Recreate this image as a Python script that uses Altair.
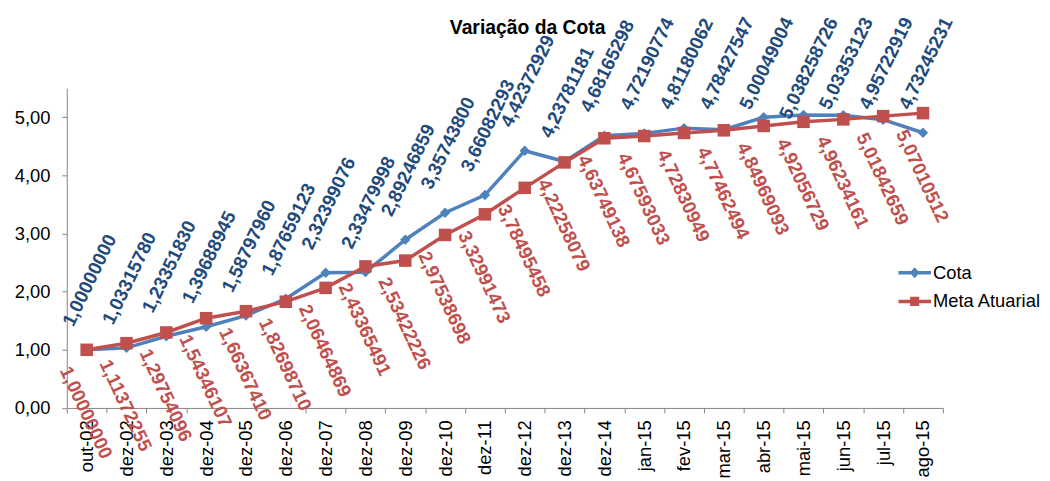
import altair as alt
import pandas as pd

meses = ["out-02", "dez-02", "dez-03", "dez-04", "dez-05", "dez-06", "dez-07",
         "dez-08", "dez-09", "dez-10", "dez-11", "dez-12", "dez-13", "dez-14",
         "jan-15", "fev-15", "mar-15", "abr-15", "mai-15", "jun-15", "jul-15", "ago-15"]

cota = [1.00000000, 1.03315780, 1.23351830, 1.39688945, 1.58797960, 1.87659123,
        2.32399076, 2.33479998, 2.89246859, 3.35743800, 3.66082293, 4.42372929,
        4.23781181, 4.68165298, 4.72190774, 4.81180062, 4.78427547, 5.00049004,
        5.038258726, 5.03353123, 4.95722919, 4.73245231]

meta = [1.00000000, 1.11372255, 1.29754096, 1.54346107, 1.66367410, 1.82698710,
        2.06464869, 2.43365491, 2.53422226, 2.97538698, 3.32991473, 3.78495458,
        4.22258079, 4.63749138, 4.67593033, 4.72830949, 4.77462494, 4.84969093,
        4.92056729, 4.96234161, 5.01842659, 5.07010512]

series = ["Cota", "Meta Atuarial"]
colors = ["#4F81BD", "#C0504D"]
label_colors = ["#1F4A7C", "#C0504D"]


def fmt(v):
    dec = max(8, len(repr(v).split(".")[1]))
    return f"{v:.{dec}f}".replace(".", ",")


rows = []
for m, c, t in zip(meses, cota, meta):
    rows.append({"mes": m, "serie": "Cota", "valor": c, "rotulo": fmt(c)})
    rows.append({"mes": m, "serie": "Meta Atuarial", "valor": t, "rotulo": fmt(t)})
df = pd.DataFrame(rows)

FONT = "Liberation Sans"
GRAY = "#868686"

x = alt.X("mes:N", sort=meses, bandPosition=0.5,
          scale=alt.Scale(type="band", paddingInner=0, paddingOuter=0),
          axis=alt.Axis(title=None, labelAngle=270, labelAlign="right", labelBaseline="middle",
                        labelFontSize=18.5, labelFont=FONT, labelColor="black", labelPadding=7,
                        tickBand="extent", tickSize=5, tickColor=GRAY, domainColor=GRAY,
                        grid=False, labelOverlap=False))
yscale = alt.Scale(domain=[0, 5.5], nice=False, zero=True)
y = alt.Y("valor:Q", scale=yscale,
          axis=alt.Axis(title=None, values=[0, 1, 2, 3, 4, 5],
                        labelExpr="replace(format(datum.value, '.2f'), '.', ',')",
                        labelFontSize=18.5, labelFont=FONT, labelColor="black", labelPadding=12,
                        tickSize=5, tickColor=GRAY, domainColor=GRAY, grid=False))

base = alt.Chart(df)

layers = []
for s, col in zip(series, colors):
    layers.append(base.transform_filter(alt.datum.serie == s)
                  .mark_line(strokeWidth=3.5, color=col).encode(x=x, y=y))
layers.append(base.transform_filter(alt.datum.serie == "Cota")
              .mark_point(shape="diamond", filled=True, size=110, opacity=1, color=colors[0])
              .encode(x=x, y=y))
layers.append(base.transform_filter(alt.datum.serie == "Meta Atuarial")
              .mark_point(shape="square", filled=True, size=160, opacity=1, color=colors[1])
              .encode(x=x, y=y))

# data labels (labels near the top are kept inside the chart, as the spreadsheet does)
layers.append(base.transform_filter(alt.datum.serie == "Cota")
              .transform_calculate(ylab="min(datum.valor, 4.73 - (length(datum.rotulo) - 10) * 0.166)")
              .mark_text(angle=296, align="left", baseline="middle", font=FONT, fontSize=19,
                         fontWeight="bold", color=label_colors[0], xOffset=-19, yOffset=-25)
              .encode(x=x, y=alt.Y("ylab:Q", scale=yscale), text="rotulo:N"))
layers.append(base.transform_filter(alt.datum.serie == "Meta Atuarial")
              .mark_text(angle=65, align="left", baseline="middle", font=FONT, fontSize=19,
                         fontWeight="bold", color=label_colors[1], xOffset=-22, yOffset=18)
              .encode(x=x, y=y, text="rotulo:N"))

# legend only layer (no marks drawn)
leg_paths = ["M-1,-0.11H1V0.11H-1Z M0,-0.34L0.3,0L0,0.34L-0.3,0Z",
             "M-1,-0.11H1V0.11H-1Z M-0.28,-0.28H0.28V0.28H-0.28Z"]
leg = dict(title=None, orient="none", legendX=839, legendY=172, symbolSize=1089,
           symbolStrokeWidth=0, labelFont=FONT, labelFontSize=18.5, labelColor="black",
           labelOffset=2, clipHeight=28.5, rowPadding=0, padding=0)
layers.append(base.transform_filter("datum.valor < 0")
              .mark_point(filled=True, opacity=1)
              .encode(x=x, y=y,
                      color=alt.Color("serie:N", scale=alt.Scale(domain=series, range=colors),
                                      legend=alt.Legend(**leg)),
                      shape=alt.Shape("serie:N", scale=alt.Scale(domain=series, range=leg_paths),
                                      legend=alt.Legend(**leg))))

chart = alt.layer(*layers).properties(
    width=884, height=322.7,
    title=alt.TitleParams(text="Variação da Cota", font=FONT, fontSize=19.5, fontWeight="bold",
                          color="black", anchor="middle", frame="group", dx=23, offset=-39,
                          baseline="alphabetic"),
    autosize=alt.AutoSizeParams(type="none"),
    padding={"left": 59.3, "top": 78.7, "right": 100, "bottom": 76},
    background="white",
).configure_view(stroke=None)

chart.save("out.html", embed_options={"renderer": "svg", "actions": False})
